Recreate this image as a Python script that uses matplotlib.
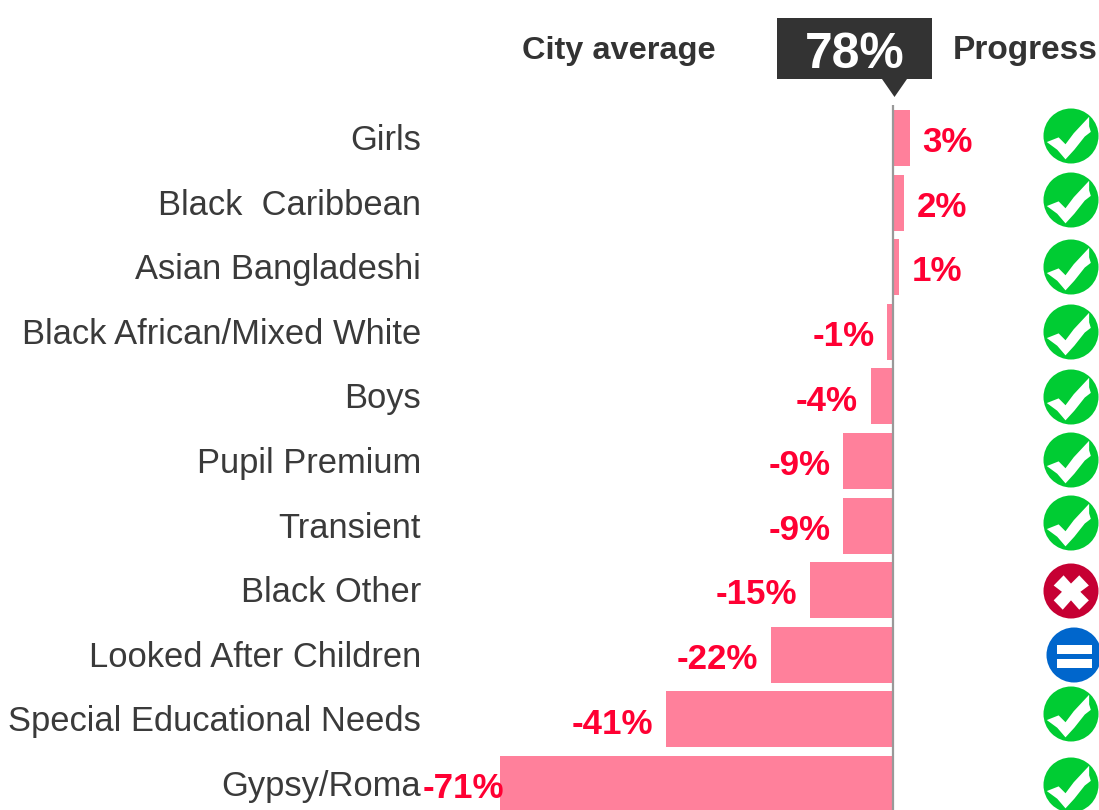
import matplotlib
matplotlib.use('Agg')
import matplotlib.pyplot as plt
from matplotlib.patches import Circle, Polygon, Rectangle

plt.rcParams['font.family'] = ['Liberation Sans', 'DejaVu Sans']

categories = ['Girls', 'Black  Caribbean', 'Asian Bangladeshi', 'Black African/Mixed White',
              'Boys', 'Pupil Premium', 'Transient', 'Black Other',
              'Looked After Children', 'Special Educational Needs', 'Gypsy/Roma']
values = [3, 2, 1, -1, -4, -9, -9, -15, -22, -41, -71]
progress = ['yes', 'yes', 'yes', 'yes', 'yes', 'yes', 'yes', 'no', 'same', 'yes', 'yes']
icon_y = [136, 200, 267, 332, 397, 460, 523, 591, 655, 714, 785]
city_average = '78%'

W, H = 1099, 810
PX = 5.535      # pixels per percentage point
ROW = 64.6      # pixels per row
ZERO, FIRST = 893, 138
GREY, DARK, RED, PINK = '#3A3A3A', '#333333', '#FF0033', '#FF809B'

fig = plt.figure(figsize=(W / 100, H / 100), dpi=100, facecolor='white')
ax = fig.add_axes([0, 0, 1, 1])
ax.set_xlim(-ZERO / PX, (W - ZERO) / PX)
ax.set_ylim((H - FIRST) / ROW, -FIRST / ROW)
ax.axis('off')

ax.barh(range(len(values)), values, height=56 / ROW, color=PINK, linewidth=0, zorder=2)

label_x = (421 - ZERO) / PX
for i, (c, v) in enumerate(zip(categories, values)):
    ax.text(label_x, i - 1 / ROW, c, ha='right', va='center_baseline', fontsize=24.85, color=GREY)
    if v > 0:
        ax.annotate(f'{v}%', (v, i), xytext=(9.2, -0.9), textcoords='offset points',
                    ha='left', va='center_baseline', fontsize=25.1, fontweight='bold', color=RED)
    else:
        off = 2.6 if v == -71 else -9.2
        ax.annotate(f'{v}%', (v, i), xytext=(off, -0.9), textcoords='offset points',
                    ha='right', va='center_baseline', fontsize=25.1, fontweight='bold', color=RED, zorder=3)

# overlay in pixel coordinates for header furniture and status icons
ov = fig.add_axes([0, 0, 1, 1])
ov.set_xlim(0, W)
ov.set_ylim(H, 0)
ov.axis('off')
ov.patch.set_alpha(0)

ov.plot([893, 893], [105, H], color='#999999', lw=1.6, zorder=4, solid_capstyle='butt')
ov.add_patch(Rectangle((777, 18), 155, 61, color='#333333', lw=0))
ov.add_patch(Polygon([(882, 79), (907, 79), (894.5, 97)], color='#333333', lw=0))
ov.text(855, 49.5, city_average, ha='center', va='center_baseline', fontsize=35.8,
        fontweight='bold', color='white')
ov.text(619, 48, 'City average', ha='center', va='center_baseline', fontsize=23.4,
        fontweight='bold', color=DARK)
ov.text(1025.5, 47, 'Progress', ha='center', va='center_baseline', fontsize=24.1,
        fontweight='bold', color=DARK)

CHECK = [(-0.88, 0.22), (-0.45, 0.05), (-0.2, 0.3), (0.1, -0.1), (0.66, -0.7), (0.66, -0.35),
         (0.72, -0.15), (0.5, 0.02), (0.12, 0.5), (-0.2, 0.85), (-0.5, 0.5)]
CROSS = [(-0.27, -0.57), (0, -0.27), (0.3, -0.57), (0.65, -0.2), (0.34, 0.03), (0.65, 0.34),
         (0.3, 0.68), (0, 0.34), (-0.3, 0.68), (-0.63, 0.34), (-0.33, 0.03), (-0.63, -0.2)]


def icon(kind, cy):
    r = 27.5
    if kind == 'same':
        cx = 1074
        ov.add_patch(Circle((cx, cy), r, color='#0066CC', lw=0))
        for dy in (-5.5, 8):
            ov.add_patch(Rectangle((cx - 17.5, cy + dy - 4.5), 35.3, 9, color='white', lw=0))
        return
    cx = 1071
    color = '#00CC33' if kind == 'yes' else '#C60033'
    shape = CHECK if kind == 'yes' else CROSS
    ov.add_patch(Circle((cx, cy), r, color=color, lw=0))
    ov.add_patch(Polygon([(cx + x * r, cy + y * r) for x, y in shape], color='white', lw=0))


for kind, cy in zip(progress, icon_y):
    icon(kind, cy)

fig.savefig('out.png', dpi=100, facecolor='white')
